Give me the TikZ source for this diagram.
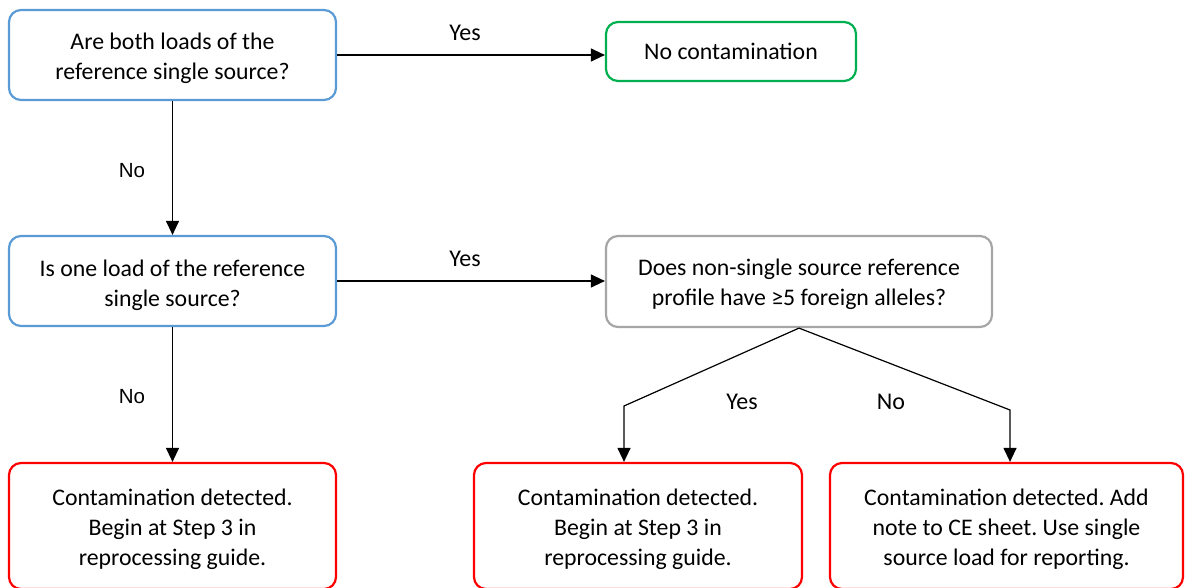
\documentclass[tikz,border=0pt]{standalone}
\usepackage{fontspec}
\setmainfont{Carlito}
\newfontfamily\arialish{Liberation Sans}
\usetikzlibrary{arrows.meta}
\definecolor{qblue}{HTML}{5B9BD5}
\definecolor{okgreen}{HTML}{00B050}
\definecolor{qgray}{HTML}{A6A6A6}
\definecolor{alertred}{HTML}{FF0000}
\frenchspacing
% centred lines of box text, set a little below the box's middle
\newcommand{\boxlines}[2]{\raisebox{-#1}[\height][\depth]{\begin{tabular}{@{}c@{}}#2\end{tabular}}}
\tikzset{
  box/.style={draw, rounded corners=12pt, line width=2.2pt, fill=white,
    align=center, inner sep=0pt, font=\fontsize{23.8}{30}\selectfont},
  qbox/.style={box, draw=qblue},
  okbox/.style={box, draw=okgreen},
  graybox/.style={box, draw=qgray},
  redbox/.style={box, draw=alertred},
  link/.style={line width=1.2pt, -{Triangle[width=13pt,length=14pt]}},
  lbl/.style={font=\fontsize{24}{28}\selectfont},
  lblarial/.style={font=\arialish\fontsize{20.5}{24}\selectfont},
}
\begin{document}
\begin{tikzpicture}[x=1pt,y=-1pt]
\useasboundingbox (0,0) rectangle (1185,588);
\clip (0,0) rectangle (1185,588);

% decision boxes
\node[qbox, minimum width=327pt, minimum height=90pt] (q1) at (172.5,55)
  {\boxlines{4pt}{Are both loads of the\\reference single source?}};
\node[okbox, minimum width=250pt, minimum height=59pt] (nc) at (731,51.5)
  {No contamination};
\node[qbox, minimum width=327pt, minimum height=90pt] (q2) at (172.5,281)
  {\boxlines{4pt}{Is one load of the reference\\single source?}};
\node[graybox, minimum width=386pt, minimum height=91pt] (q3) at (799,281.5)
  {\boxlines{3pt}{Does non-single source reference\\profile have \char"2265 5 foreign alleles?}};

% outcome boxes
\node[redbox, minimum width=327pt, minimum height=126pt] (r1) at (172.5,526)
  {\boxlines{3pt}{Contamination detected.\\Begin at Step 3 in\\reprocessing guide.}};
\node[redbox, minimum width=328pt, minimum height=126pt] (r2) at (638,526)
  {\boxlines{3pt}{Contamination detected.\\Begin at Step 3 in\\reprocessing guide.}};
\node[redbox, minimum width=353pt, minimum height=126pt] (r3) at (1006.5,526)
  {\boxlines{3pt}{Contamination detected. Add\\note to CE sheet. Use single\\source load for reporting.}};

% bends of the split below q3
\coordinate (ybend) at (624,406);
\coordinate (nbend) at (1010,410);

% connectors
\draw[link] (q1.east) -- (q1.east -| nc.west);
\draw[link] (q1.south) -- (q2.north);
\draw[link] (q2.east) -- (q2.east -| q3.west);
\draw[link] (q2.south) -- (r1.north);
\draw[link] (q3.south) -- (ybend) -- (ybend |- r2.north);
\draw[link] (q3.south) -- (nbend) -- (nbend |- r3.north);

% branch labels
\node[lbl] (yes1) at (465,33) {Yes};
\node[lblarial] (no1) at (132,171) {No};
\node[lbl] (yes2) at (465,259) {Yes};
\node[lblarial] (no2) at (132,397) {No};
\node[lbl] (yes3) at (742,402) {Yes};
\node[lbl] (no3) at (891,402) {No};
\end{tikzpicture}
\end{document}
